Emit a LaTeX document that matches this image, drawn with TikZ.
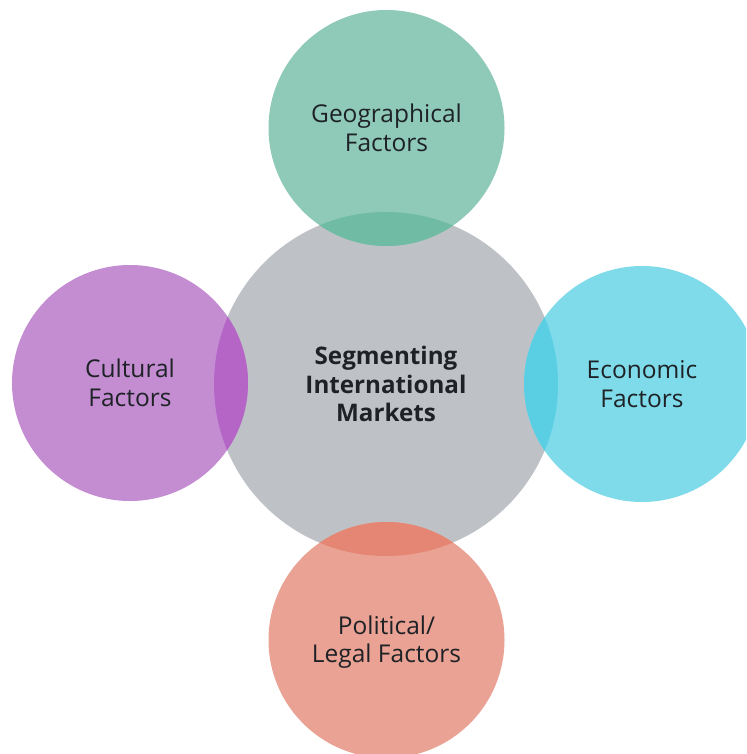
\documentclass[tikz,border=0pt]{standalone}
\usepackage{fontspec}
\setmainfont{Open Sans}
\definecolor{cgray}{HTML}{BEC1C5}
\definecolor{cgreen}{HTML}{8FCAB8}
\definecolor{cgreenD}{HTML}{6FBBA4}
\definecolor{cpurple}{HTML}{C48DD2}
\definecolor{cpurpleD}{HTML}{B465C6}
\definecolor{ccyan}{HTML}{7FDBEA}
\definecolor{ccyanD}{HTML}{5ACFE4}
\definecolor{csalmon}{HTML}{E9A293}
\definecolor{csalmonD}{HTML}{E48673}
\definecolor{ctext}{HTML}{1E2226}
\tikzset{
  bubble/.style={circle, minimum size=236pt, inner sep=0pt, align=center,
    text=ctext, font=\fontsize{24.5}{28.5}\selectfont},
  hub/.style={circle, minimum size=344pt, inner sep=0pt, align=center, fill=cgray,
    text=ctext, font=\bfseries\fontsize{24.2}{28.5}\selectfont}
}
\begin{document}
\begin{tikzpicture}[x=1pt,y=-1pt]
\useasboundingbox (0,0) rectangle (746,754);
\begin{scope}
\clip (0,0) rectangle (746,754);
\node[hub] (hub) at (386,384) {};
\node[bubble, fill=cgreen] (geo) at (386.5,128) {};
\node[bubble, fill=cpurple] (cul) at (130,383) {};
\node[bubble, fill=ccyan] (eco) at (642,384) {};
\node[bubble, fill=csalmon] (pol) at (386.5,640) {};
\begin{scope}
\clip (hub.center) circle (172);
\fill[cgreenD] (geo.center) circle (118);
\fill[cpurpleD] (cul.center) circle (118);
\fill[ccyanD] (eco.center) circle (118);
\fill[csalmonD] (pol.center) circle (118);
\end{scope}
\node[bubble] at (geo.center) {Geographical\\Factors};
\node[bubble] at (cul.center) {Cultural\\Factors};
\node[bubble] at (eco.center) {Economic\\Factors};
\node[bubble] at ([yshift=-2]pol.center) {Political/\\Legal Factors};
\node[hub, fill=none] at (hub.center) {Segmenting\\International\\Markets};
\end{scope}
\end{tikzpicture}
\end{document}
